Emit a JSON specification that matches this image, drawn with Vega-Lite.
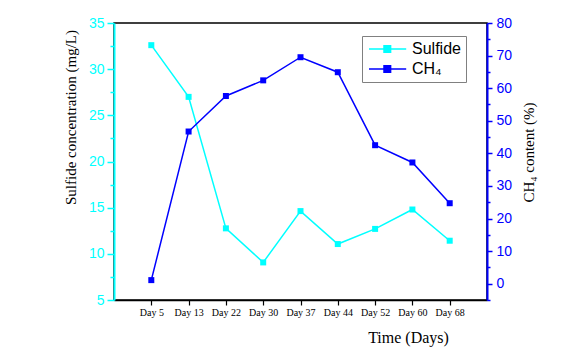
{
  "$schema": "https://vega.github.io/schema/vega-lite/v6.json",
  "width": 373,
  "height": 277,
  "autosize": "none",
  "padding": {"left": 114, "top": 23, "right": 95, "bottom": 52},
  "background": "white",
  "config": {
    "view": {"stroke": "black", "strokeWidth": 1.5},
    "axis": {"grid": false}
  },
  "data": {
    "values": [
      {"day": "Day 5", "sulfide": 32.6, "ch4": 1.1},
      {"day": "Day 13", "sulfide": 27.0, "ch4": 46.7},
      {"day": "Day 22", "sulfide": 12.76, "ch4": 57.6},
      {"day": "Day 30", "sulfide": 9.07, "ch4": 62.4},
      {"day": "Day 37", "sulfide": 14.63, "ch4": 69.5},
      {"day": "Day 44", "sulfide": 11.06, "ch4": 64.9},
      {"day": "Day 52", "sulfide": 12.7, "ch4": 42.5},
      {"day": "Day 60", "sulfide": 14.8, "ch4": 37.2},
      {"day": "Day 68", "sulfide": 11.42, "ch4": 24.7}
    ]
  },
  "encoding": {
    "x": {
      "field": "day",
      "type": "ordinal",
      "sort": null,
      "scale": {"type": "point", "padding": 1},
      "axis": {
        "title": "Time (Days)",
        "labelAngle": 0,
        "labelFont": "Liberation Serif",
        "labelFontSize": 10,
        "labelColor": "black",
        "labelPadding": 2,
        "tickColor": "black",
        "tickSize": 5,
        "tickWidth": 1.2,
        "domainColor": "black",
        "domainWidth": 1.5,
        "titleFont": "Liberation Serif",
        "titleFontSize": 16,
        "titleFontWeight": "normal",
        "titleColor": "black",
        "titleX": 294,
        "titleY": 37,
        "titleAlign": "center",
        "titleBaseline": "middle"
      }
    }
  },
  "layer": [
    {
      "mark": {"type": "line", "strokeWidth": 1.5, "point": {"shape": "square", "size": 36, "filled": true}},
      "encoding": {
        "y": {
          "field": "sulfide",
          "type": "quantitative",
          "scale": {"domain": [5, 35], "nice": false, "zero": false},
          "axis": {
            "orient": "left",
            "values": [5, 7.5, 10, 12.5, 15, 17.5, 20, 22.5, 25, 27.5, 30, 32.5, 35],
            "labelExpr": "datum.value % 5 === 0 ? datum.label : ''",
            "tickSize": {"condition": {"test": "datum.value % 5 === 0", "value": 7}, "value": 4},
            "tickColor": "#00ffff",
            "tickWidth": 1.5,
            "domainColor": "#00ffff",
            "domainWidth": 2,
            "labelColor": "#00ffff",
            "labelFont": "Liberation Sans",
            "labelFontSize": 14,
            "labelPadding": 3,
            "title": "Sulfide concentration (mg/L)",
            "titleFont": "Liberation Serif",
            "titleFontSize": 15,
            "titleFontWeight": "normal",
            "titleColor": "black",
            "titleX": -44,
            "titleY": 94,
            "titleAngle": -90,
            "titleAlign": "center",
            "titleBaseline": "middle"
          }
        },
        "color": {
          "datum": "Sulfide",
          "type": "nominal",
          "scale": {"domain": ["Sulfide", "CH₄"], "range": ["#00ffff", "#0000ff"]},
          "legend": {
            "title": null,
            "orient": "none",
            "legendX": 248,
            "legendY": 13,
            "strokeColor": "#808080",
            "fillColor": "white",
            "padding": 5,
            "labelFont": "Liberation Sans",
            "labelFontSize": 16,
            "labelColor": "black",
            "labelOffset": 29,
            "symbolType": "M-1,0H5.2M1.5,-0.55H2.6V0.55H1.5Z",
            "symbolSize": 144,
            "symbolStrokeWidth": 1.5,
            "rowPadding": 4
          }
        }
      }
    },
    {
      "mark": {"type": "line", "strokeWidth": 1.5, "point": {"shape": "square", "size": 36, "filled": true}},
      "encoding": {
        "y": {
          "field": "ch4",
          "type": "quantitative",
          "scale": {"domain": [-5, 80], "nice": false, "zero": false},
          "axis": {
            "orient": "right",
            "values": [-5, 0, 5, 10, 15, 20, 25, 30, 35, 40, 45, 50, 55, 60, 65, 70, 75, 80],
            "labelExpr": "datum.value % 10 === 0 ? datum.label : ''",
            "tickSize": {"condition": {"test": "datum.value % 10 === 0", "value": 5}, "value": 3},
            "tickColor": "#0000ff",
            "tickWidth": 1.5,
            "domainColor": "#0000ff",
            "domainWidth": 2,
            "labelColor": "#0000ff",
            "labelFont": "Liberation Sans",
            "labelFontSize": 14,
            "labelPadding": 4,
            "title": "CH₄ content (%)",
            "titleFont": "Liberation Serif",
            "titleFontSize": 15,
            "titleFontWeight": "normal",
            "titleColor": "black",
            "titleX": 41,
            "titleY": 129,
            "titleAngle": -90,
            "titleAlign": "center",
            "titleBaseline": "middle"
          }
        },
        "color": {"datum": "CH₄", "type": "nominal"}
      }
    }
  ],
  "resolve": {"scale": {"y": "independent"}}
}
